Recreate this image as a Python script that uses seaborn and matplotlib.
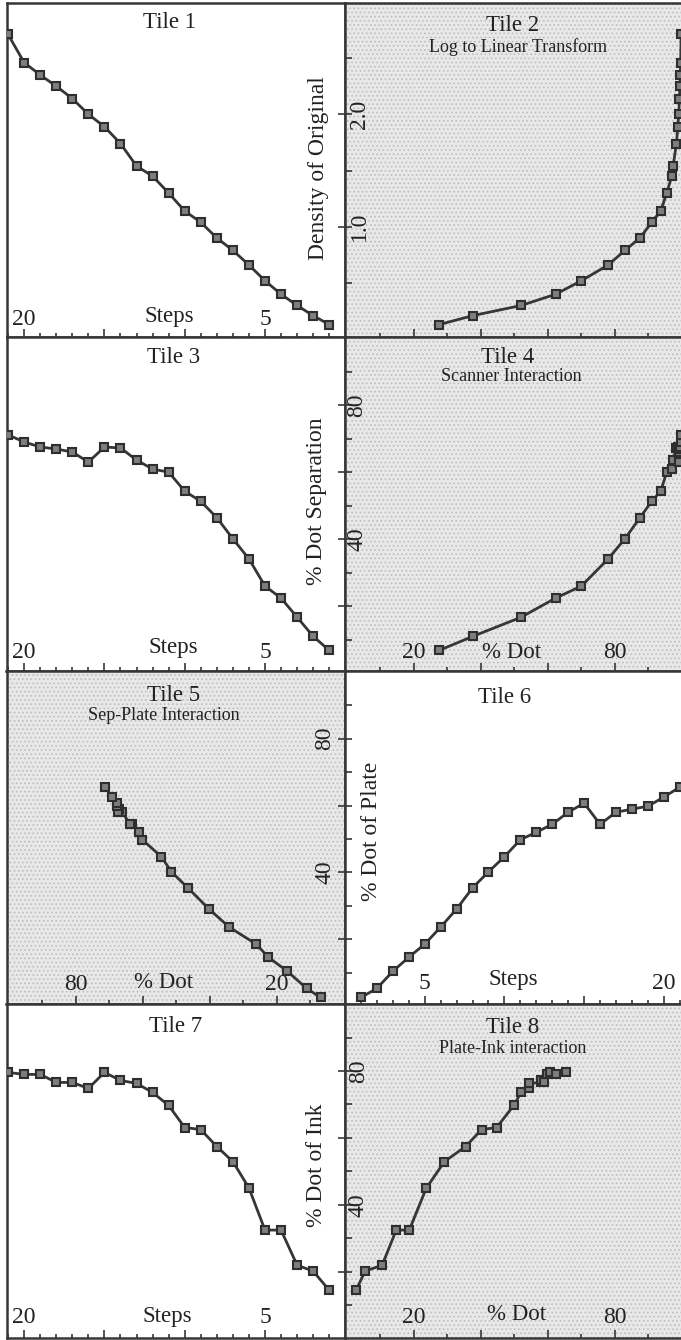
import matplotlib
matplotlib.use("Agg")
import matplotlib.pyplot as plt
from matplotlib.patches import Rectangle
from matplotlib.ticker import FixedLocator, FixedFormatter
import seaborn as sns
import pandas as pd

# ---------------- data ----------------
steps = list(range(1, 22))
density_original = [0.13, 0.21, 0.30, 0.40, 0.52, 0.66, 0.79, 0.90, 1.04, 1.14, 1.30,
                    1.45, 1.54, 1.74, 1.89, 2.00, 2.14, 2.25, 2.35, 2.46, 2.71]
dot_original = [27.5, 37.6, 52.0, 62.3, 70.0, 78.0, 83.0, 87.5, 91.0, 93.7, 95.5,
                97.0, 97.4, 98.4, 98.8, 99.1, 99.3, 99.45, 99.55, 99.65, 99.8]
dot_separation = [6.9, 11.1, 16.8, 22.5, 26.1, 34.2, 40.2, 46.5, 51.4, 54.4, 60.1,
                  61.0, 63.7, 67.3, 67.6, 63.1, 66.1, 67.0, 67.6, 69.1, 71.2]
dot_plate = [2.7, 5.4, 10.5, 14.7, 18.6, 23.7, 29.1, 35.4, 40.2, 44.7, 49.8,
             52.0, 54.4, 58.0, 60.7, 54.4, 58.0, 58.9, 59.8, 62.5, 65.5]
dot_ink = [14.4, 20.1, 21.9, 32.4, 32.4, 45.0, 52.9, 57.4, 62.5, 63.1, 69.7,
           73.6, 76.3, 77.2, 79.6, 74.8, 76.6, 76.6, 79.0, 79.0, 79.6]

step_major = [5, 10, 15, 20]
step_major_labels = ["5", "", "", "20"]
pct_major = [20, 40, 60, 80]
pct_minor = [10, 30, 50, 70, 90]
pct_x_labels = ["20", "", "", "80"]
pct_y_labels = ["", "40", "", "80"]
dens_major = [1.0, 2.0]
dens_minor = [0.5, 1.5, 2.5]
dens_labels = ["1.0", "2.0"]

titles = ["Tile 1", "Tile 2", "Tile 3", "Tile 4", "Tile 5", "Tile 6", "Tile 7", "Tile 8"]
subtitles = [None, "Log to Linear Transform", None, "Scanner Interaction",
             "Sep-Plate Interaction", None, None, "Plate-Ink interaction"]

df = pd.DataFrame({"step": steps, "density": density_original, "dot": dot_original,
                   "sep": dot_separation, "plate": dot_plate, "ink": dot_ink})

# ---------------- style ----------------
sns.set_style("white")
plt.rcParams["font.family"] = ["Liberation Serif", "DejaVu Serif"]
plt.rcParams["hatch.linewidth"] = 0.7
INK = "#363636"
TXT = "#222222"
PX = 0.72  # points per pixel at dpi 100

W, H = 681, 1340
col_x = [6.5, 344.5]
col_w = 338.3
row_top = [3, 336.75, 670.5, 1004.25]
row_h = 333.75

fig = plt.figure(figsize=(W / 100, H / 100), dpi=100)
fig.patch.set_facecolor("white")

step_axis = dict(major=step_major, labels=step_major_labels, minor=steps)
pct_xaxis = dict(major=pct_major, labels=pct_x_labels, minor=pct_minor)

tiles = [
    dict(r=0, c=0, x="step", y="density", xlim=(21.1, 0.03), ylim=(0.022, 2.99), stip=False,
         xax=step_axis, xlab="Steps", xoff=12, xlaboff=15, xlabx=0.48,
         title=(0.481, 0.925), sub=None),
    dict(r=0, c=1, x="dot", y="density", xlim=(-0.75, 100.3), ylim=(0.022, 2.99), stip=True,
         xax=dict(pct_xaxis, labels=["", "", "", ""]), xlab=None,
         yax=dict(major=dens_major, labels=dens_labels, minor=dens_minor, pad=-15.5),
         ylab="Density of Original", ylabpos=(-0.078, 0.504),
         title=(0.498, 0.916), sub=(0.513, 0.853)),
    dict(r=1, c=0, x="step", y="sep", xlim=(21.1, 0.03), ylim=(0.9, 100.5), stip=False,
         xax=step_axis, xlab="Steps", xoff=12.5, xlaboff=18, xlabx=0.493,
         title=(0.493, 0.921), sub=None),
    dict(r=1, c=1, x="dot", y="sep", xlim=(-0.75, 100.3), ylim=(0.9, 100.5), stip=True,
         xax=pct_xaxis, xlab="% Dot", xoff=12.5, xlaboff=12.5, xlabx=0.495,
         yax=dict(major=pct_major, labels=pct_y_labels, minor=pct_minor, pad=-14.0),
         ylab="% Dot Separation", ylabpos=(-0.084, 0.508),
         title=(0.481, 0.921), sub=(0.492, 0.868)),
    dict(r=2, c=0, x="sep", y="plate", xlim=(100.6, -0.3), ylim=(0.67, 100.3), stip=True,
         xax=pct_xaxis, xlab="% Dot", xoff=14.5, xlaboff=16, xlabx=0.463,
         title=(0.493, 0.909), sub=(0.466, 0.852)),
    dict(r=2, c=1, x="step", y="plate", xlim=(-0.03, 21.19), ylim=(0.67, 100.3), stip=False,
         xax=step_axis, xlab="Steps", xoff=15, xlaboff=19, xlabx=0.498,
         yax=dict(major=pct_major, labels=pct_y_labels, minor=pct_minor, pad=9.0),
         ylab="% Dot of Plate", ylabpos=(0.081, 0.519),
         title=(0.474, 0.903), sub=None),
    dict(r=3, c=0, x="step", y="ink", xlim=(21.1, 0.03), ylim=(0.1, 100.0), stip=False,
         xax=step_axis, xlab="Steps", xoff=15, xlaboff=16, xlabx=0.475,
         title=(0.499, 0.917), sub=None),
    dict(r=3, c=1, x="plate", y="ink", xlim=(-0.75, 100.3), ylim=(0.1, 100.0), stip=True,
         xax=pct_xaxis, xlab="% Dot", xoff=15, xlaboff=18, xlabx=0.51,
         yax=dict(major=pct_major, labels=pct_y_labels, minor=pct_minor, pad=-15.1),
         ylab="% Dot of Ink", ylabpos=(-0.084, 0.518),
         title=(0.498, 0.914), sub=(0.498, 0.853)),
]

for i, t in enumerate(tiles):
    rect = [col_x[t["c"]] / W, 1 - (row_top[t["r"]] + row_h) / H, col_w / W, row_h / H]
    ax = fig.add_axes(rect)
    ax.set_facecolor("#e8e8e8" if t["stip"] else "white")
    if t["stip"]:
        ax.add_patch(Rectangle((0, 0), 1, 1, transform=ax.transAxes, facecolor="none",
                               edgecolor="#bdbdbd", hatch="....", lw=0, zorder=0.5))

    sns.lineplot(data=df, x=t["x"], y=t["y"], ax=ax, estimator=None, sort=True,
                 color=INK, lw=2.0, marker="s", markersize=6.0,
                 markerfacecolor="#7e7e7e", markeredgecolor="#2e2e2e",
                 markeredgewidth=1.5, zorder=3)
    ax.set_xlim(*t["xlim"])
    ax.set_ylim(*t["ylim"])
    ax.set_xlabel("")
    ax.set_ylabel("")

    for s in ax.spines.values():
        s.set_linewidth(1.8)
        s.set_color(INK)
        s.set_visible(True)

    # x axis (bottom, inward ticks, labels inside)
    xa = t["xax"]
    ax.xaxis.set_major_locator(FixedLocator(xa["major"]))
    ax.xaxis.set_major_formatter(FixedFormatter(xa["labels"]))
    ax.xaxis.set_minor_locator(FixedLocator([v for v in xa["minor"] if v not in xa["major"]]))
    ax.tick_params(axis="x", which="major", direction="in", length=8 * PX, width=1.2,
                   color=INK, bottom=True, top=False, labelsize=17, labelcolor=TXT,
                   pad=-t.get("xoff", 12) * PX)
    ax.tick_params(axis="x", which="minor", direction="in", length=4 * PX, width=1.2,
                   color=INK, bottom=True, top=False)
    plt.setp(ax.get_xticklabels(), va="baseline")

    # y axis
    if "yax" in t:
        ya = t["yax"]
        ax.yaxis.set_major_locator(FixedLocator(ya["major"]))
        ax.yaxis.set_major_formatter(FixedFormatter(ya["labels"]))
        ax.yaxis.set_minor_locator(FixedLocator(ya["minor"]))
        ax.tick_params(axis="y", which="major", direction="inout", length=14 * PX, width=1.2,
                       color=INK, left=True, right=False, labelsize=17, labelcolor=TXT,
                       labelrotation=90, pad=ya["pad"])
        ax.tick_params(axis="y", which="minor", direction="in", length=7 * PX, width=1.2,
                       color=INK, left=True, right=False)
        plt.setp(ax.get_yticklabels(), ha="center", va="center")
        ax.set_ylabel(t["ylab"], fontsize=17, color=TXT, rotation=90)
        ax.yaxis.set_label_coords(*t["ylabpos"])
        ax.yaxis.label.set_va("center")
        ax.yaxis.label.set_ha("center")
    else:
        ax.tick_params(axis="y", which="both", left=False, right=False,
                       labelleft=False, labelright=False)

    if t["xlab"]:
        ax.set_xlabel(t["xlab"], fontsize=16.5, color=TXT)
        ax.xaxis.set_label_coords(t["xlabx"], t["xlaboff"] / row_h)
        ax.xaxis.label.set_va("baseline")

    tx, ty = t["title"]
    ax.text(tx, ty, titles[i], transform=ax.transAxes, ha="center", va="baseline",
            fontsize=16.5, color=TXT)
    if subtitles[i] and t["sub"]:
        sx, sy = t["sub"]
        ax.text(sx, sy, subtitles[i], transform=ax.transAxes, ha="center", va="baseline",
                fontsize=13, color=TXT)

fig.savefig("out.png", dpi=100, facecolor="white")
